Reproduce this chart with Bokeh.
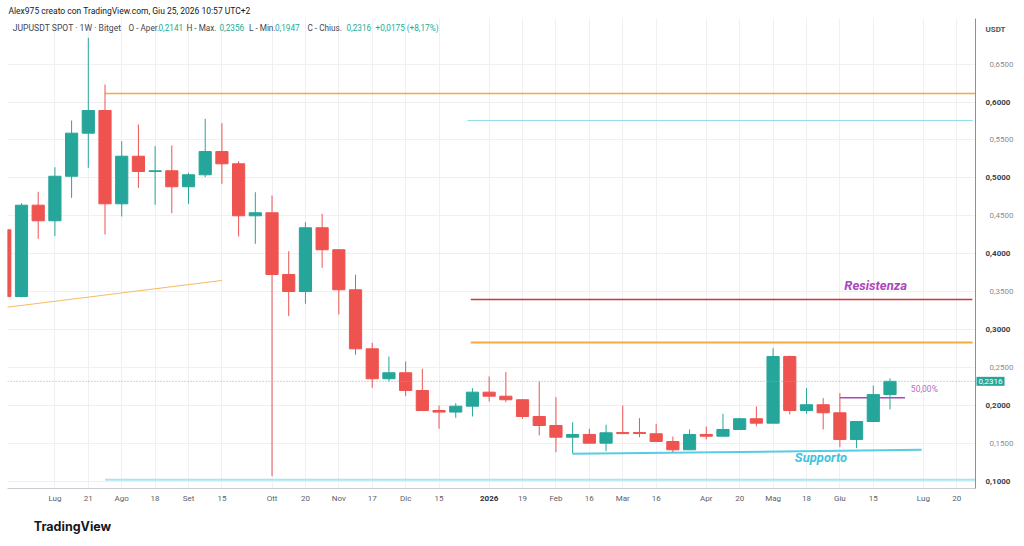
from bokeh.plotting import figure
from bokeh.models import (ColumnDataSource, FixedTicker, CustomJSTickFormatter, Label,
                          Span, Range1d, Title, LinearAxis)
from bokeh.embed import file_html
from bokeh.resources import INLINE
import pandas as pd

# ---------------- data ----------------
start_week = "2025-06-16"
opens = [0.4315, 0.3435, 0.4640, 0.4434, 0.5022, 0.5590, 0.5889, 0.4658, 0.5286, 0.5084,
         0.5094, 0.4883, 0.5041, 0.5348, 0.5186, 0.4500, 0.4540, 0.3726, 0.3501, 0.4342,
         0.4052, 0.3524, 0.2745, 0.2350, 0.2429, 0.2195, 0.1931, 0.1910, 0.1988, 0.2173,
         0.2120, 0.2073, 0.1852, 0.1733, 0.1579, 0.1615, 0.1500, 0.1640, 0.1640, 0.1624,
         0.1522, 0.1413, 0.1615, 0.1592, 0.1681, 0.1822, 0.1764, 0.2644, 0.1931, 0.2007,
         0.1901, 0.1549, 0.1786, 0.2141]
highs = [0.4330, 0.4666, 0.4817, 0.5141, 0.5757, 0.6848, 0.6232, 0.5484, 0.5705, 0.5418,
         0.5428, 0.5067, 0.5780, 0.5722, 0.5220, 0.4811, 0.4768, 0.4033, 0.4416, 0.4526,
         0.4055, 0.3722, 0.2825, 0.2644, 0.2578, 0.2482, 0.1997, 0.2028, 0.2226, 0.2380,
         0.2437, 0.2075, 0.2314, 0.2107, 0.1777, 0.1690, 0.1743, 0.1997, 0.1830, 0.1756,
         0.1588, 0.1681, 0.1720, 0.1888, 0.1835, 0.1984, 0.2753, 0.2655, 0.2226, 0.2094,
         0.2160, 0.1786, 0.2261, 0.2356]
lows = [0.3430, 0.3426, 0.4196, 0.4231, 0.4737, 0.5133, 0.4253, 0.4491, 0.4869, 0.4645,
        0.4534, 0.4658, 0.5009, 0.4922, 0.4227, 0.4130, 0.1065, 0.3176, 0.3339, 0.3814,
        0.3198, 0.2666, 0.2231, 0.2314, 0.2120, 0.1930, 0.1690, 0.1835, 0.1852, 0.2050,
        0.2041, 0.1822, 0.1602, 0.1381, 0.1365, 0.1497, 0.1395, 0.1622, 0.1579, 0.1513,
        0.1381, 0.1410, 0.1549, 0.1585, 0.1680, 0.1724, 0.1764, 0.1879, 0.1888, 0.1681,
        0.1447, 0.1434, 0.1776, 0.1947]
closes = [0.3434, 0.4640, 0.4434, 0.5022, 0.5590, 0.5889, 0.4658, 0.5286, 0.5084, 0.5094,
          0.4883, 0.5041, 0.5348, 0.5186, 0.4500, 0.4540, 0.3726, 0.3501, 0.4342, 0.4052,
          0.3524, 0.2745, 0.2350, 0.2429, 0.2195, 0.1931, 0.1910, 0.1988, 0.2173, 0.2120,
          0.2073, 0.1852, 0.1733, 0.1579, 0.1615, 0.1500, 0.1637, 0.1626, 0.1628, 0.1522,
          0.1413, 0.1615, 0.1592, 0.1681, 0.1822, 0.1764, 0.2644, 0.1931, 0.2007, 0.1901,
          0.1549, 0.1786, 0.2141, 0.2316]

tick_dates = ["2025-07-07", "2025-07-21", "2025-08-04", "2025-08-18", "2025-09-01", "2025-09-15",
              "2025-10-06", "2025-10-20", "2025-11-03", "2025-11-17", "2025-12-01", "2025-12-15",
              "2026-01-05", "2026-01-19", "2026-02-02", "2026-02-16", "2026-03-02", "2026-03-16",
              "2026-04-06", "2026-04-20", "2026-05-04", "2026-05-18", "2026-06-01", "2026-06-15",
              "2026-07-06", "2026-07-20"]
tick_labels = ["Lug", "21", "Ago", "18", "Set", "15", "Ott", "20", "Nov", "17", "Dic", "15",
               "2026", "19", "Feb", "16", "Mar", "16", "Apr", "20", "Mag", "18", "Giu", "15",
               "Lug", "20"]
year_label = "2026"
price_ticks_major = [0.10, 0.20, 0.30, 0.40, 0.50, 0.60]
price_ticks_half = [0.15, 0.25, 0.35, 0.45, 0.55, 0.65]

# drawn levels (start week, end week, price)
level_names = ["top_orange", "top_cyan", "resistance", "mid_orange", "bottom_cyan"]
level_x0 = [6.0, 27.7, 27.9, 27.9, 6.0]
level_x1 = [59.0, 57.95, 57.93, 57.95, 59.0]
level_price = [0.6115, 0.5757, 0.3396, 0.2829, 0.1017]
trend_x = [-0.5, 13.0]
trend_price = [0.3276, 0.3647]
support_x = [34.0, 54.9]
support_price = [0.1360, 0.1412]
fib_x = [50.0, 53.9]
fib_price = [0.2099, 0.2099]
last_price = 0.2316

UP = "#26a69a"
DOWN = "#ef5350"
FONT = "Roboto"

t0 = pd.Timestamp(start_week)
xs = list(range(len(opens)))
colors = [UP if c >= o else DOWN for o, c in zip(opens, closes)]
src = ColumnDataSource(dict(
    x=xs, high=highs, low=lows,
    top=[max(o, c) for o, c in zip(opens, closes)],
    bottom=[min(o, c) for o, c in zip(opens, closes)],
    color=colors))

tick_pos = [int((pd.Timestamp(d) - t0).days // 7) for d in tick_dates]
plain_ticks = [tp for tp, lab in zip(tick_pos, tick_labels) if lab != year_label]
year_ticks = [tp for tp, lab in zip(tick_pos, tick_labels) if lab == year_label]

p = figure(width=1024, height=546, output_backend="svg", toolbar_location=None,
           x_range=Range1d(0.162, 58.12), y_range=Range1d(0.0902, 0.7103),
           y_axis_location="right",
           min_border_left=7, min_border_right=49, min_border_top=18, min_border_bottom=58)
p.outline_line_color = None
p.background_fill_color = "white"
p.border_fill_color = "white"

# header (title above the frame)
p.add_layout(Title(text="Alex975 creato con TradingView.com, Giu 25, 2026 10:57 UTC+2",
                   align="left", offset=1, standoff=5, text_font=FONT,
                   text_font_size="8.5px", text_font_style="normal",
                   text_color="#131722"), "above")

fmt = CustomJSTickFormatter(code="return tick.toFixed(4).replace('.', ',');")

def style_axis(ax, color, weight, standoff, line_color):
    ax.major_tick_line_color = None
    ax.major_tick_out = 0
    ax.major_tick_in = 0
    ax.minor_tick_line_color = None
    ax.minor_tick_out = 0
    ax.axis_line_color = line_color
    ax.major_label_text_font = FONT
    ax.major_label_text_font_size = "8px"
    ax.major_label_text_color = color
    ax.major_label_text_font_style = weight
    ax.major_label_standoff = standoff

# x axes: month/day labels, and the year label in bold
xax = p.xaxis[0]
xax.ticker = FixedTicker(ticks=plain_ticks)
xax.major_label_overrides = {tp: lab for tp, lab in zip(tick_pos, tick_labels)}
style_axis(xax, "#5d606b", "normal", 5, "#c9ccd3")
xax2 = LinearAxis(ticker=FixedTicker(ticks=year_ticks),
                  major_label_overrides={tp: year_label for tp in year_ticks})
style_axis(xax2, "#2a2e39", "bold", -10, None)

# y axes: round tenths dark/bold, half steps light
yax = p.yaxis[0]
yax.ticker = FixedTicker(ticks=price_ticks_major)
yax.formatter = fmt
style_axis(yax, "#3b3e48", "bold", 10, "#8d9099")
yax2 = LinearAxis(ticker=FixedTicker(ticks=price_ticks_half), formatter=fmt)
style_axis(yax2, "#8a8d96", "normal", -24, None)
p.add_layout(yax2, "right")

p.xgrid.ticker = FixedTicker(ticks=tick_pos)
p.ygrid.ticker = FixedTicker(ticks=sorted(price_ticks_major + price_ticks_half))
p.xgrid.grid_line_color = "#eef0f4"
p.ygrid.grid_line_color = "#eef0f4"

# horizontal levels
level_colors = ["#f7a940", "#8fdfe9", "#d2343c", "#f7a940", "#a6e6f0"]
level_widths = [1.5, 1.2, 1.5, 2, 2]
p.segment(x0=level_x0, y0=level_price, x1=level_x1, y1=level_price,
          line_color=level_colors, line_width=level_widths)
p.line(trend_x, trend_price, line_color="#f5bb62", line_width=1)
p.line(support_x, support_price, line_color="#56cde2", line_width=2)
p.line(fib_x, fib_price, line_color="#ab47bc", line_width=1.5)

# current price dotted line
p.add_layout(Span(location=last_price, dimension="width", line_color="#a3a7ae",
                  line_dash="1 2", line_width=1))

# candles
p.segment(x0="x", y0="low", x1="x", y1="high", line_color="color", line_width=1, source=src)
p.vbar(x="x", width=0.73, top="top", bottom="bottom", fill_color="color",
       line_color="color", line_width=1, source=src)

# in-chart texts
p.add_layout(Label(x=52.14, y=0.358, text="Resistenza", text_align="center",
                   text_baseline="middle", text_font=FONT, text_font_size="13px",
                   text_font_style="bold italic", text_color="#ab47bc"))
p.add_layout(Label(x=48.87, y=0.1307, text="Supporto", text_align="center",
                   text_baseline="middle", text_font=FONT, text_font_size="13px",
                   text_font_style="bold italic", text_color="#3fc3dd"))
p.add_layout(Label(x=54.25, y=0.2209, text="50,00%", text_align="left",
                   text_baseline="middle", text_font=FONT, text_font_size="8.5px",
                   text_color="#ba68c8"))

# legend line inside the frame
legend_parts = [("JUPUSDT SPOT · 1W · Bitget", 5.3, "#434651", "8.6px"),
                ("O - Aper.", 121.0, "#434651", "8.2px"),
                ("0,2141", 151, "#22ab94", "8.2px"),
                ("H - Max.", 179, "#434651", "8.2px"),
                ("0,2356", 212, "#22ab94", "8.2px"),
                ("L - Min.", 241.5, "#434651", "8.2px"),
                ("0,1947", 267.5, "#22ab94", "8.2px"),
                ("C - Chius.", 300, "#434651", "8.2px"),
                ("0,2316", 339, "#22ab94", "8.2px"),
                ("+0,0175 (+8,17%)", 368, "#22ab94", "8.2px")]
for txt, xx, col, fs in legend_parts:
    p.add_layout(Label(x=xx, y=461, x_units="screen", y_units="screen", text=txt,
                       text_baseline="middle", text_font=FONT, text_font_size=fs,
                       text_color=col))

# texts outside the frame: placed in the bottom side panel (not clipped)
brand = Label(x=26.3, x_units="screen", y=0.0401, text="TradingView",
              text_baseline="middle", text_font="Inter", text_font_size="12.5px",
              text_font_style="bold", text_color="#131722")
tag = Label(x=969, x_units="screen", y=last_price, text="0,2316",
            text_align="left", text_baseline="middle", text_font=FONT,
            text_font_size="8px", text_color="white",
            background_fill_color=UP, padding=2)
unit = Label(x=988, x_units="screen", y=0.6958, text="USDT",
             text_align="center", text_baseline="middle", text_font=FONT,
             text_font_size="8px", text_font_style="bold", text_color="#50535e")
p.below = [xax, xax2, brand, tag, unit]

open("out.html", "w").write(file_html(p, INLINE))
